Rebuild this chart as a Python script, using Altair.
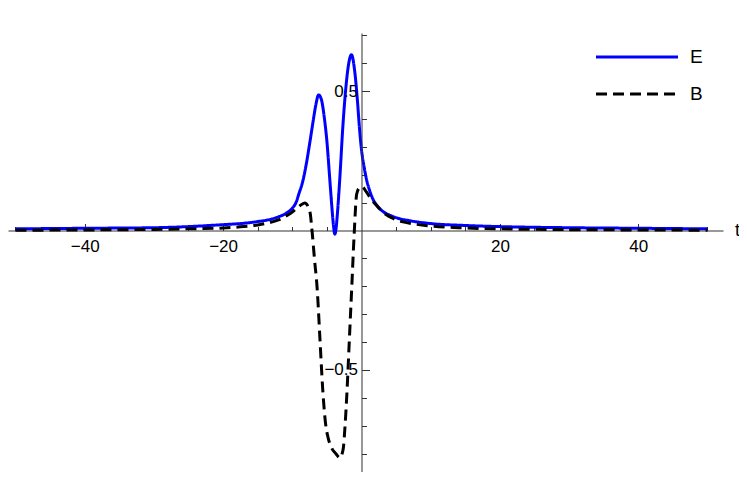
import altair as alt
import pandas as pd

# ---- data ----
series_names = ["E", "B"]

t_E = [-50, -40, -30, -25, -20, -17, -15, -13, -12, -11, -10, -9.5, -9, -8.5, -8,
       -7.5, -7, -6.6, -6.2, -5.8, -5.4, -5.0, -4.6, -4.25, -4.05, -3.85, -3.65, -3.45,
       -3.1, -2.7, -2.3, -1.9, -1.45, -1.0, -0.6, -0.3, 0, 0.4, 0.8, 1.2, 1.7, 2.3, 3,
       4, 5, 7, 10, 15, 20, 30, 40, 50]
E_vals = [0.006, 0.008, 0.010, 0.014, 0.021, 0.026, 0.032, 0.041, 0.049, 0.060, 0.080,
          0.098, 0.135, 0.175, 0.235, 0.31, 0.39, 0.45, 0.486, 0.47, 0.41, 0.32, 0.19,
          0.075, 0.018, -0.013, 0.012, 0.07, 0.20, 0.37, 0.50, 0.59, 0.63, 0.575, 0.47,
          0.37, 0.29, 0.225, 0.175, 0.142, 0.11, 0.088, 0.07, 0.056, 0.046, 0.035,
          0.025, 0.018, 0.014, 0.010, 0.008, 0.006]

t_B = [-50, -40, -30, -25, -20, -17, -15, -13, -12, -11, -10, -9, -8.2, -7.7, -7.4,
       -7.15, -6.8, -6.4, -6.0, -5.6, -5.2, -4.8, -4.3, -3.7, -3.1, -2.8, -2.6, -2.35,
       -2.1, -1.75, -1.4, -1.05, -0.7, -0.3, 0.1, 0.6, 1.2, 2, 2.6, 3.5, 4.5, 6, 8, 10,
       14, 20, 30, 40, 50]
B_vals = [0.001, 0.002, 0.004, 0.006, 0.009, 0.014, 0.020, 0.030, 0.038, 0.050, 0.066,
          0.087, 0.099, 0.085, 0.060, 0.0, -0.10, -0.21, -0.39, -0.57, -0.69, -0.745,
          -0.78, -0.80, -0.815, -0.80, -0.775, -0.69, -0.58, -0.39, -0.20, -0.01, 0.13,
          0.153, 0.157, 0.142, 0.12, 0.095, 0.078, 0.058, 0.044, 0.031, 0.022, 0.016,
          0.010, 0.006, 0.003, 0.002, 0.001]

x_label_values = [-40, -20, 20, 40]
x_tick_values = [-50, -45, -40, -35, -30, -25, -20, -15, -10, -5,
                 5, 10, 15, 20, 25, 30, 35, 40, 45, 50]
y_label_values = [-0.5, 0.5]
y_tick_values = [-0.8, -0.7, -0.6, -0.5, -0.4, -0.3, -0.2, -0.1,
                 0.1, 0.2, 0.3, 0.4, 0.5, 0.6, 0.7]

dfE = pd.DataFrame({"t": t_E, "v": E_vals, "s": "E"})
dfB = pd.DataFrame({"t": t_B, "v": B_vals, "s": "B"})
dfAll = pd.concat([dfE, dfB], ignore_index=True)

# ---- layout ----
W, H = 715, 439
X_DOMAIN = [-51.08, 52.24]
Y_DOMAIN = [-0.8656, 0.7079]
x0 = W * (0 - X_DOMAIN[0]) / (X_DOMAIN[1] - X_DOMAIN[0])
y0 = H * (Y_DOMAIN[1] - 0) / (Y_DOMAIN[1] - Y_DOMAIN[0])

FONT = "Liberation Sans"
AX = "#333333"

xscale = alt.Scale(domain=X_DOMAIN, nice=False, zero=False)
yscale = alt.Scale(domain=Y_DOMAIN, nice=False, zero=False)

legend = alt.Legend(
    title=None, orient="none", legendX=617, legendY=12,
    symbolType="M-4,0H4", symbolSize=420.25, symbolStrokeWidth=3,
    labelFont=FONT, labelFontSize=19, labelColor="black",
    labelOffset=41, rowPadding=15, padding=0,
)
color = alt.Color("s:N", scale=alt.Scale(domain=series_names, range=["#0000ff", "#000000"]),
                  legend=legend)
dash = alt.StrokeDash("s:N", scale=alt.Scale(domain=series_names, range=[[1, 0], [11, 6]]),
                      legend=legend)

x_axis_main = alt.Axis(
    orient="bottom", offset=-(H - y0), values=x_label_values, ticks=False,
    domain=True, domainColor=AX, domainWidth=1, grid=False, format="d",
    labelFont=FONT, labelFontSize=17, labelColor="black", labelPadding=8,
    labelFlush=False, labelOverlap=False,
    title="t", titleX=729, titleY=0, titleAngle=0, titleAlign="center",
    titleBaseline="middle", titleFont=FONT, titleFontSize=18,
    titleFontWeight="normal", titleColor="black",
)
y_axis_main = alt.Axis(
    orient="left", offset=-x0, values=y_label_values, ticks=False,
    domain=True, domainColor=AX, domainWidth=1, grid=False, format=".1f",
    labelFont=FONT, labelFontSize=17, labelColor="black", labelPadding=4,
    labelFlush=False, labelOverlap=False, title=None, zindex=1,
)
x_axis_ticks = alt.Axis(
    orient="top", offset=-y0, values=x_tick_values, labels=False, domain=False,
    grid=False, title=None, tickColor=AX, tickWidth=1,
    tickSize={"condition": {"test": "abs(datum.value) == 20 || abs(datum.value) == 40",
                            "value": 7}, "value": 4},
)
y_axis_ticks = alt.Axis(
    orient="right", offset=-(W - x0), values=y_tick_values, labels=False, domain=False,
    grid=False, title=None, tickColor=AX, tickWidth=1,
    tickSize={"condition": {"test": "abs(abs(datum.value) - 0.5) < 0.001", "value": 8},
              "value": 5},
)

lineE = alt.Chart(dfE).mark_line(strokeWidth=3, interpolate="monotone", clip=True).encode(
    x=alt.X("t:Q", scale=xscale, axis=x_axis_main),
    y=alt.Y("v:Q", scale=yscale, axis=y_axis_main),
    color=color, strokeDash=dash,
)
lineB = alt.Chart(dfB).mark_line(strokeWidth=3, interpolate="monotone", clip=True).encode(
    x=alt.X("t:Q", scale=xscale, axis=None),
    y=alt.Y("v:Q", scale=yscale, axis=None),
    color=color, strokeDash=dash,
)
ticks = alt.Chart(dfAll).mark_point(opacity=0, size=1).encode(
    x=alt.X("t:Q", scale=xscale, axis=x_axis_ticks),
    y=alt.Y("v:Q", scale=yscale, axis=y_axis_ticks),
)

chart = alt.layer(ticks, lineE, lineB).resolve_axis(
    x="independent", y="independent"
).properties(
    width=W, height=H,
    autosize=alt.AutoSizeParams(type="none"),
    padding={"left": 0, "top": 25, "right": 16, "bottom": 0},
    background="white",
).configure_view(stroke="transparent")

chart.save("out.html", embed_options={"renderer": "svg", "actions": False})
